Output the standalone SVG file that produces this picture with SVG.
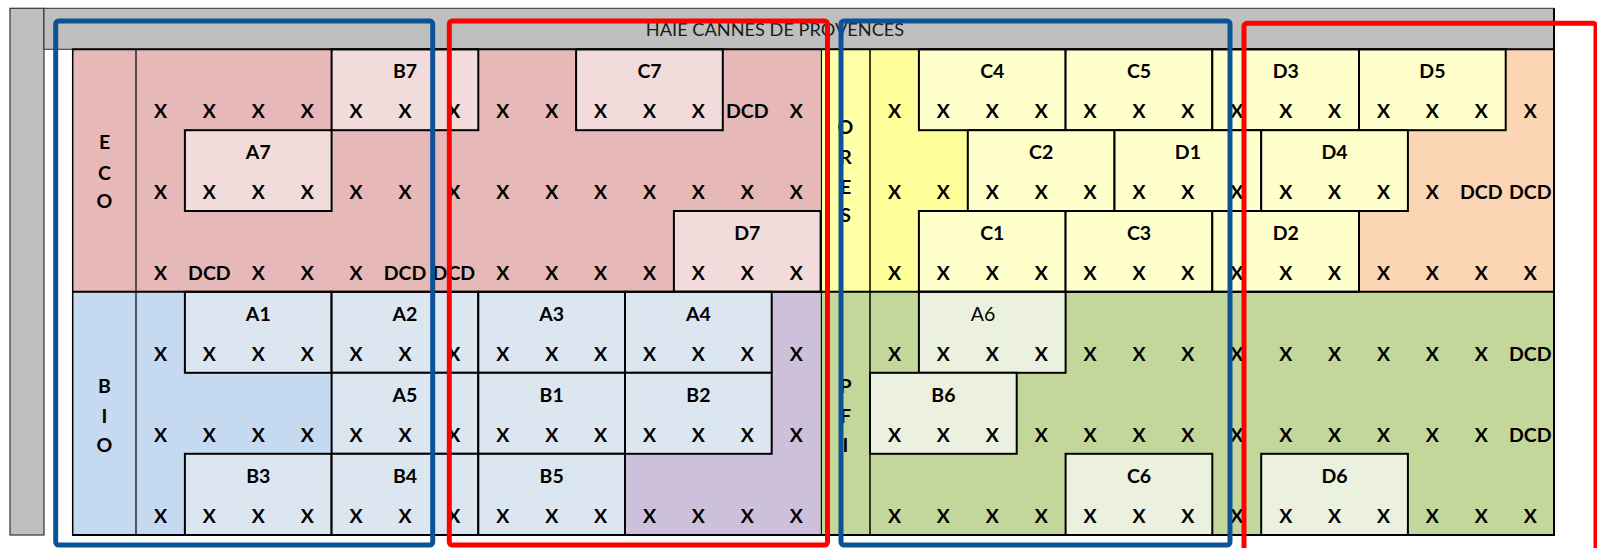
<svg xmlns="http://www.w3.org/2000/svg" width="1597" height="548" viewBox="0 0 1597 548">
<style>
text{font-family:Lato,"Open Sans","Liberation Sans",sans-serif;fill:#000;text-anchor:middle}
.m{font-size:19.5px;font-weight:bold}
.hd{font-size:18.2px;font-weight:normal;fill:#1a1a1a}
.rg{font-weight:normal}
.box{stroke:#000;stroke-width:2}
.eco{fill:#F2DCDB}.bio{fill:#DCE6F1}.yel{fill:#FFFFCC}.grn{fill:#EBF1DE}
.ln{stroke:#000;fill:none}
.fb{fill:none;stroke:#0C5297;stroke-width:5}
.fr{fill:none;stroke:#FF0000;stroke-width:5}
</style>
<rect width="1597" height="548" fill="#fff"/>
<g id="background">
<rect x="10" y="8.3" width="34" height="526.7" fill="#BFBFBF" stroke="#333" stroke-width="1.2"/>
<rect x="44" y="8.3" width="1510" height="41" fill="#BFBFBF" stroke="#333" stroke-width="1"/>
<rect x="72.7" y="49.3" width="748" height="242.5" fill="#E6B8B7"/>
<rect x="72.7" y="291.8" width="748" height="243.2" fill="#C5D9F1"/>
<polygon points="771.7,291.8 820.6,291.8 820.6,535 625,535 625,453.8 771.7,453.8" fill="#CCC0DA"/>
<rect x="820.6" y="49.3" width="49.4" height="242.5" fill="#FFFFA6"/>
<rect x="870" y="49.3" width="684" height="242.5" fill="#FFFF99"/>
<polygon points="1505.7,49.3 1554,49.3 1554,291.8 1359,291.8 1359,211 1407.9,211 1407.9,130.2 1505.7,130.2" fill="#FCD5B4"/>
<rect x="820.6" y="291.8" width="733.4" height="243.2" fill="#C4D79B"/>
</g>
<g id="boxes">
<g id="B7"><rect class="box eco" x="331.6" y="49.3" width="146.7" height="80.9"/><text class="m" x="405" y="78">B7</text></g>
<g id="C7"><rect class="box eco" x="576.1" y="49.3" width="146.7" height="80.9"/><text class="m" x="649.5" y="78">C7</text></g>
<g id="A7"><rect class="box eco" x="184.9" y="130.2" width="146.7" height="80.8"/><text class="m" x="258.3" y="159.2">A7</text></g>
<g id="D7"><rect class="box eco" x="673.9" y="211" width="146.7" height="80.8"/><text class="m" x="747.3" y="240">D7</text></g>
<g id="A1"><rect class="box bio" x="184.9" y="291.8" width="146.7" height="81"/><text class="m" x="258.3" y="320.8">A1</text></g>
<g id="A2"><rect class="box bio" x="331.6" y="291.8" width="146.7" height="81"/><text class="m" x="405" y="320.8">A2</text></g>
<g id="A3"><rect class="box bio" x="478.3" y="291.8" width="146.7" height="81"/><text class="m" x="551.7" y="320.8">A3</text></g>
<g id="A4"><rect class="box bio" x="625" y="291.8" width="146.7" height="81"/><text class="m" x="698.4" y="320.8">A4</text></g>
<g id="A5"><rect class="box bio" x="331.6" y="372.8" width="146.7" height="81"/><text class="m" x="405" y="401.8">A5</text></g>
<g id="B1"><rect class="box bio" x="478.3" y="372.8" width="146.7" height="81"/><text class="m" x="551.7" y="401.8">B1</text></g>
<g id="B2"><rect class="box bio" x="625" y="372.8" width="146.7" height="81"/><text class="m" x="698.4" y="401.8">B2</text></g>
<g id="B3"><rect class="box bio" x="184.9" y="453.8" width="146.7" height="81.2"/><text class="m" x="258.3" y="482.8">B3</text></g>
<g id="B4"><rect class="box bio" x="331.6" y="453.8" width="146.7" height="81.2"/><text class="m" x="405" y="482.8">B4</text></g>
<g id="B5"><rect class="box bio" x="478.3" y="453.8" width="146.7" height="81.2"/><text class="m" x="551.7" y="482.8">B5</text></g>
<g id="C4"><rect class="box yel" x="918.9" y="49.3" width="146.7" height="80.9"/><text class="m" x="992.3" y="78">C4</text></g>
<g id="C5"><rect class="box yel" x="1065.6" y="49.3" width="146.7" height="80.9"/><text class="m" x="1139" y="78">C5</text></g>
<g id="D3"><rect class="box yel" x="1212.3" y="49.3" width="146.7" height="80.9"/><text class="m" x="1285.7" y="78">D3</text></g>
<g id="D5"><rect class="box yel" x="1359" y="49.3" width="146.7" height="80.9"/><text class="m" x="1432.4" y="78">D5</text></g>
<g id="C2"><rect class="box yel" x="967.8" y="130.2" width="146.7" height="80.8"/><text class="m" x="1041.2" y="159.2">C2</text></g>
<g id="D1"><rect class="box yel" x="1114.5" y="130.2" width="146.7" height="80.8"/><text class="m" x="1187.9" y="159.2">D1</text></g>
<g id="D4"><rect class="box yel" x="1261.2" y="130.2" width="146.7" height="80.8"/><text class="m" x="1334.6" y="159.2">D4</text></g>
<g id="C1"><rect class="box yel" x="918.9" y="211" width="146.7" height="80.8"/><text class="m" x="992.3" y="240">C1</text></g>
<g id="C3"><rect class="box yel" x="1065.6" y="211" width="146.7" height="80.8"/><text class="m" x="1139" y="240">C3</text></g>
<g id="D2"><rect class="box yel" x="1212.3" y="211" width="146.7" height="80.8"/><text class="m" x="1285.7" y="240">D2</text></g>
<g id="A6"><rect class="box grn" x="918.9" y="291.8" width="146.7" height="81"/><text class="m rg" x="983" y="320.8">A6</text></g>
<g id="B6"><rect class="box grn" x="870" y="372.8" width="146.7" height="81"/><text class="m" x="943.4" y="401.8">B6</text></g>
<g id="C6"><rect class="box grn" x="1065.6" y="453.8" width="146.7" height="81.2"/><text class="m" x="1139" y="482.8">C6</text></g>
<g id="D6"><rect class="box grn" x="1261.2" y="453.8" width="146.7" height="81.2"/><text class="m" x="1334.6" y="482.8">D6</text></g>
</g>
<g id="gridlines">
<line class="ln" x1="72.7" y1="49.3" x2="72.7" y2="535" stroke-width="1.5"/>
<line class="ln" x1="136" y1="49.3" x2="136" y2="535" stroke-width="1.2"/>
<line class="ln" x1="821.4" y1="49.3" x2="821.4" y2="535" stroke-width="1.2"/>
<line class="ln" x1="870" y1="49.3" x2="870" y2="535" stroke-width="1.5"/>
<line class="ln" x1="1554" y1="8.3" x2="1554" y2="535" stroke-width="2"/>
<line class="ln" x1="72" y1="49.3" x2="1555" y2="49.3" stroke-width="2"/>
<line class="ln" x1="72" y1="291.8" x2="1555" y2="291.8" stroke-width="2"/>
<line class="ln" x1="72" y1="535" x2="1555" y2="535" stroke-width="2"/>
</g>
<g id="header"><text class="hd" x="775" y="36">HAIE CANNES DE PROVENCES</text></g>
<g id="side-labels">
<text class="m" x="104.5" y="149">E</text><text class="m" x="104.5" y="179.5">C</text><text class="m" x="104.5" y="208.3">O</text>
<text class="m" x="104.5" y="392.7">B</text><text class="m" x="104.5" y="422.7">I</text><text class="m" x="104.5" y="451.7">O</text>
<text class="m" x="845.5" y="134">O</text><text class="m" x="845.5" y="164">R</text><text class="m" x="845.5" y="194">E</text><text class="m" x="845.5" y="221.7">S</text>
<text class="m" x="845.5" y="392.7">P</text><text class="m" x="845.5" y="422.7">F</text><text class="m" x="845.5" y="451.7">I</text>
</g>
<g id="marks-left" class="m">
<text class="m" x="160.5" y="118.3">X</text><text class="m" x="209.4" y="118.3">X</text><text class="m" x="258.3" y="118.3">X</text><text class="m" x="307.2" y="118.3">X</text><text class="m" x="356.1" y="118.3">X</text><text class="m" x="405" y="118.3">X</text><text class="m" x="453.9" y="118.3">X</text><text class="m" x="502.8" y="118.3">X</text><text class="m" x="551.7" y="118.3">X</text><text class="m" x="600.6" y="118.3">X</text><text class="m" x="649.5" y="118.3">X</text><text class="m" x="698.4" y="118.3">X</text><text class="m" x="747.3" y="118.3">DCD</text><text class="m" x="796.2" y="118.3">X</text>
<text class="m" x="160.5" y="199.2">X</text><text class="m" x="209.4" y="199.2">X</text><text class="m" x="258.3" y="199.2">X</text><text class="m" x="307.2" y="199.2">X</text><text class="m" x="356.1" y="199.2">X</text><text class="m" x="405" y="199.2">X</text><text class="m" x="453.9" y="199.2">X</text><text class="m" x="502.8" y="199.2">X</text><text class="m" x="551.7" y="199.2">X</text><text class="m" x="600.6" y="199.2">X</text><text class="m" x="649.5" y="199.2">X</text><text class="m" x="698.4" y="199.2">X</text><text class="m" x="747.3" y="199.2">X</text><text class="m" x="796.2" y="199.2">X</text>
<text class="m" x="160.5" y="280">X</text><text class="m" x="209.4" y="280">DCD</text><text class="m" x="258.3" y="280">X</text><text class="m" x="307.2" y="280">X</text><text class="m" x="356.1" y="280">X</text><text class="m" x="405" y="280">DCD</text><text class="m" x="453.9" y="280">DCD</text><text class="m" x="502.8" y="280">X</text><text class="m" x="551.7" y="280">X</text><text class="m" x="600.6" y="280">X</text><text class="m" x="649.5" y="280">X</text><text class="m" x="698.4" y="280">X</text><text class="m" x="747.3" y="280">X</text><text class="m" x="796.2" y="280">X</text>
<text class="m" x="160.5" y="360.8">X</text><text class="m" x="209.4" y="360.8">X</text><text class="m" x="258.3" y="360.8">X</text><text class="m" x="307.2" y="360.8">X</text><text class="m" x="356.1" y="360.8">X</text><text class="m" x="405" y="360.8">X</text><text class="m" x="453.9" y="360.8">X</text><text class="m" x="502.8" y="360.8">X</text><text class="m" x="551.7" y="360.8">X</text><text class="m" x="600.6" y="360.8">X</text><text class="m" x="649.5" y="360.8">X</text><text class="m" x="698.4" y="360.8">X</text><text class="m" x="747.3" y="360.8">X</text><text class="m" x="796.2" y="360.8">X</text>
<text class="m" x="160.5" y="441.8">X</text><text class="m" x="209.4" y="441.8">X</text><text class="m" x="258.3" y="441.8">X</text><text class="m" x="307.2" y="441.8">X</text><text class="m" x="356.1" y="441.8">X</text><text class="m" x="405" y="441.8">X</text><text class="m" x="453.9" y="441.8">X</text><text class="m" x="502.8" y="441.8">X</text><text class="m" x="551.7" y="441.8">X</text><text class="m" x="600.6" y="441.8">X</text><text class="m" x="649.5" y="441.8">X</text><text class="m" x="698.4" y="441.8">X</text><text class="m" x="747.3" y="441.8">X</text><text class="m" x="796.2" y="441.8">X</text>
<text class="m" x="160.5" y="522.8">X</text><text class="m" x="209.4" y="522.8">X</text><text class="m" x="258.3" y="522.8">X</text><text class="m" x="307.2" y="522.8">X</text><text class="m" x="356.1" y="522.8">X</text><text class="m" x="405" y="522.8">X</text><text class="m" x="453.9" y="522.8">X</text><text class="m" x="502.8" y="522.8">X</text><text class="m" x="551.7" y="522.8">X</text><text class="m" x="600.6" y="522.8">X</text><text class="m" x="649.5" y="522.8">X</text><text class="m" x="698.4" y="522.8">X</text><text class="m" x="747.3" y="522.8">X</text><text class="m" x="796.2" y="522.8">X</text>
</g>
<g id="marks-right">
<text class="m" x="894.5" y="118.3">X</text><text class="m" x="943.4" y="118.3">X</text><text class="m" x="992.3" y="118.3">X</text><text class="m" x="1041.2" y="118.3">X</text><text class="m" x="1090.1" y="118.3">X</text><text class="m" x="1139" y="118.3">X</text><text class="m" x="1187.9" y="118.3">X</text><text class="m" x="1236.8" y="118.3">X</text><text class="m" x="1285.7" y="118.3">X</text><text class="m" x="1334.6" y="118.3">X</text><text class="m" x="1383.5" y="118.3">X</text><text class="m" x="1432.4" y="118.3">X</text><text class="m" x="1481.3" y="118.3">X</text><text class="m" x="1530.2" y="118.3">X</text>
<text class="m" x="894.5" y="199.2">X</text><text class="m" x="943.4" y="199.2">X</text><text class="m" x="992.3" y="199.2">X</text><text class="m" x="1041.2" y="199.2">X</text><text class="m" x="1090.1" y="199.2">X</text><text class="m" x="1139" y="199.2">X</text><text class="m" x="1187.9" y="199.2">X</text><text class="m" x="1236.8" y="199.2">X</text><text class="m" x="1285.7" y="199.2">X</text><text class="m" x="1334.6" y="199.2">X</text><text class="m" x="1383.5" y="199.2">X</text><text class="m" x="1432.4" y="199.2">X</text><text class="m" x="1481.3" y="199.2">DCD</text><text class="m" x="1530.2" y="199.2">DCD</text>
<text class="m" x="894.5" y="280">X</text><text class="m" x="943.4" y="280">X</text><text class="m" x="992.3" y="280">X</text><text class="m" x="1041.2" y="280">X</text><text class="m" x="1090.1" y="280">X</text><text class="m" x="1139" y="280">X</text><text class="m" x="1187.9" y="280">X</text><text class="m" x="1236.8" y="280">X</text><text class="m" x="1285.7" y="280">X</text><text class="m" x="1334.6" y="280">X</text><text class="m" x="1383.5" y="280">X</text><text class="m" x="1432.4" y="280">X</text><text class="m" x="1481.3" y="280">X</text><text class="m" x="1530.2" y="280">X</text>
<text class="m" x="894.5" y="360.8">X</text><text class="m" x="943.4" y="360.8">X</text><text class="m" x="992.3" y="360.8">X</text><text class="m" x="1041.2" y="360.8">X</text><text class="m" x="1090.1" y="360.8">X</text><text class="m" x="1139" y="360.8">X</text><text class="m" x="1187.9" y="360.8">X</text><text class="m" x="1236.8" y="360.8">X</text><text class="m" x="1285.7" y="360.8">X</text><text class="m" x="1334.6" y="360.8">X</text><text class="m" x="1383.5" y="360.8">X</text><text class="m" x="1432.4" y="360.8">X</text><text class="m" x="1481.3" y="360.8">X</text><text class="m" x="1530.2" y="360.8">DCD</text>
<text class="m" x="894.5" y="441.8">X</text><text class="m" x="943.4" y="441.8">X</text><text class="m" x="992.3" y="441.8">X</text><text class="m" x="1041.2" y="441.8">X</text><text class="m" x="1090.1" y="441.8">X</text><text class="m" x="1139" y="441.8">X</text><text class="m" x="1187.9" y="441.8">X</text><text class="m" x="1236.8" y="441.8">X</text><text class="m" x="1285.7" y="441.8">X</text><text class="m" x="1334.6" y="441.8">X</text><text class="m" x="1383.5" y="441.8">X</text><text class="m" x="1432.4" y="441.8">X</text><text class="m" x="1481.3" y="441.8">X</text><text class="m" x="1530.2" y="441.8">DCD</text>
<text class="m" x="894.5" y="522.8">X</text><text class="m" x="943.4" y="522.8">X</text><text class="m" x="992.3" y="522.8">X</text><text class="m" x="1041.2" y="522.8">X</text><text class="m" x="1090.1" y="522.8">X</text><text class="m" x="1139" y="522.8">X</text><text class="m" x="1187.9" y="522.8">X</text><text class="m" x="1236.8" y="522.8">X</text><text class="m" x="1285.7" y="522.8">X</text><text class="m" x="1334.6" y="522.8">X</text><text class="m" x="1383.5" y="522.8">X</text><text class="m" x="1432.4" y="522.8">X</text><text class="m" x="1481.3" y="522.8">X</text><text class="m" x="1530.2" y="522.8">X</text>
</g>
<g id="frames">
<rect class="fb" x="55.7" y="21" width="377" height="524" rx="3"/>
<rect class="fr" x="449.3" y="21" width="378.2" height="524" rx="3"/>
<rect class="fb" x="841" y="21" width="389" height="524" rx="3"/>
<rect class="fr" x="1244" y="23.3" width="352" height="545" rx="3"/>
</g>
</svg>
